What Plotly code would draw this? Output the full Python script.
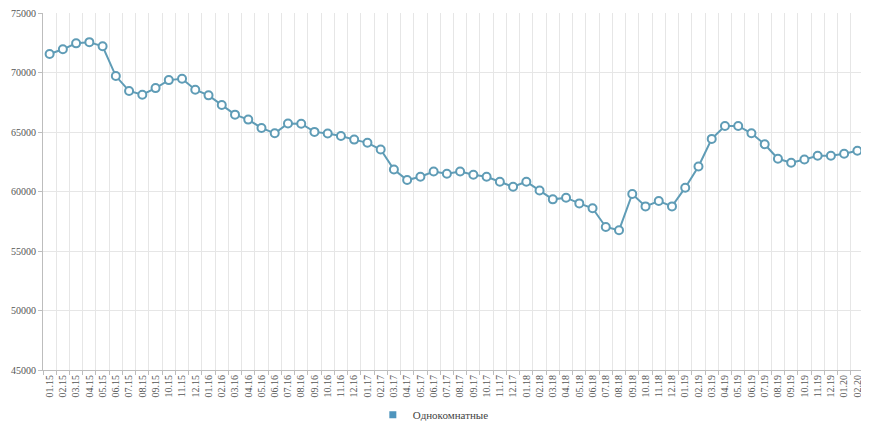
import plotly.graph_objects as go

months = ["01", "02", "03", "04", "05", "06", "07", "08", "09", "10", "11", "12"]
years = ["15", "16", "17", "18", "19"]
categories = [f"{m}.{y}" for y in years for m in months] + ["01.20", "02.20"]

values = [
    71550, 71950, 72450, 72550, 72200, 69700, 68450, 68130, 68690, 69360, 69470, 68550,
    68080, 67270, 66460, 66040, 65340, 64890, 65720, 65700, 65010, 64870, 64670, 64360,
    64090, 63530, 61850, 60960, 61240, 61680, 61490, 61680, 61410, 61240, 60820, 60400,
    60820, 60090, 59340, 59480, 59000, 58590, 57020, 56740, 59790, 58750, 59200, 58750,
    60320, 62100, 64420, 65510, 65510, 64890, 63970, 62750, 62410, 62690, 63000, 63000,
    63170, 63420,
]
series_name = "Однокомнатные"
y_ticks = [45000, 50000, 55000, 60000, 65000, 70000, 75000]

line_color = "#5f9cb6"

fig = go.Figure()
fig.add_trace(go.Scatter(
    x=categories, y=values, mode="lines+markers",
    line=dict(color=line_color, width=2),
    marker=dict(size=8, color="white", line=dict(color=line_color, width=2)),
    showlegend=False, name=series_name,
))
fig.add_trace(go.Scatter(
    x=[None], y=[None], mode="markers", name=series_name,
    marker=dict(symbol="square", size=7, color="#4f95bd"),
))

# page body has an 8px default margin, so the figure is sized to fit inside it
fig.update_layout(
    width=861, height=415,
    margin=dict(l=35, r=5, t=5, b=53, autoexpand=False),
    paper_bgcolor="white", plot_bgcolor="white",
    font=dict(family="Liberation Serif", size=10, color="#555555"),
    legend=dict(orientation="h", xref="container", yref="container",
                x=0.494, xanchor="center", y=0.02, yanchor="middle",
                itemwidth=30, bgcolor="rgba(0,0,0,0)",
                font=dict(size=11, color="#444444")),
    xaxis=dict(
        type="category", tickson="boundaries", tickangle=-90,
        showgrid=True, gridcolor="#e6e6e6", gridwidth=1,
        showline=True, linecolor="#bdbdbd", linewidth=1,
        ticks="outside", ticklen=4, tickcolor="#bdbdbd",
        tickfont=dict(size=10, color="#555555"),
        range=[-0.5, len(categories) - 0.5], automargin=False,
        ticklabeloverflow="allow",
    ),
    yaxis=dict(
        range=[45000, 75000], tickvals=y_ticks, tickformat="d",
        showgrid=True, gridcolor="#e6e6e6", gridwidth=1,
        showline=True, linecolor="#bdbdbd", linewidth=1,
        ticks="outside", ticklen=4, tickcolor="#bdbdbd",
        tickfont=dict(size=10, color="#555555"),
        zeroline=False, automargin=False,
        ticklabeloverflow="allow",
    ),
)

fig.write_html("out.html")
